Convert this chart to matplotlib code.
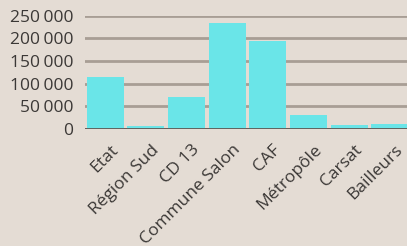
import matplotlib
matplotlib.use("Agg")
import matplotlib.pyplot as plt
from matplotlib.ticker import FuncFormatter, MultipleLocator
from matplotlib.transforms import ScaledTranslation
import numpy as np

# financeurs et montants
categories = ["Etat", "Région Sud", "CD 13", "Commune Salon", "CAF",
              "Métropôle", "Carsat", "Bailleurs"]
montants = [114500, 6000, 70500, 233500, 194500, 31000, 9500, 11500]

bg = "#e4dcd4"
bar_color = "#6ae5e8"
grid_color = "#a89e95"
text_color = "#3b3836"

plt.rcParams["font.family"] = ["Open Sans", "DejaVu Sans"]

fig = plt.figure(figsize=(4.07, 2.46), dpi=100)
fig.patch.set_facecolor(bg)
ax = fig.add_axes([85 / 407, 117 / 246, 325 / 407, 113.3 / 246])
ax.set_facecolor(bg)

x = np.arange(len(categories))
ax.bar(x, montants, width=0.91, color=bar_color, zorder=3)

ax.set_xlim(-0.5, len(categories) - 0.5)
ax.set_ylim(0, 250000)
ax.yaxis.set_major_locator(MultipleLocator(50000))
ax.yaxis.set_major_formatter(FuncFormatter(lambda v, p: f"{v:,.0f}".replace(",", "\u202f")))
ax.grid(axis="y", color=grid_color, linewidth=2, zorder=1)
ax.axhline(0, color="#5e5753", linewidth=2, zorder=4)

for s in ax.spines.values():
    s.set_visible(False)

ax.tick_params(axis="both", length=0, colors=text_color, labelsize=12.5)
ax.tick_params(axis="y", pad=8.6)
ax.set_xticks(x)
ax.set_xticklabels(categories, rotation=45, ha="right", va="top", rotation_mode="anchor")
for lab in ax.get_xticklabels():
    lab.set_transform(lab.get_transform() + ScaledTranslation(5 / 100, -8 / 100, fig.dpi_scale_trans))

fig.savefig("out.png", dpi=100, facecolor=bg)
